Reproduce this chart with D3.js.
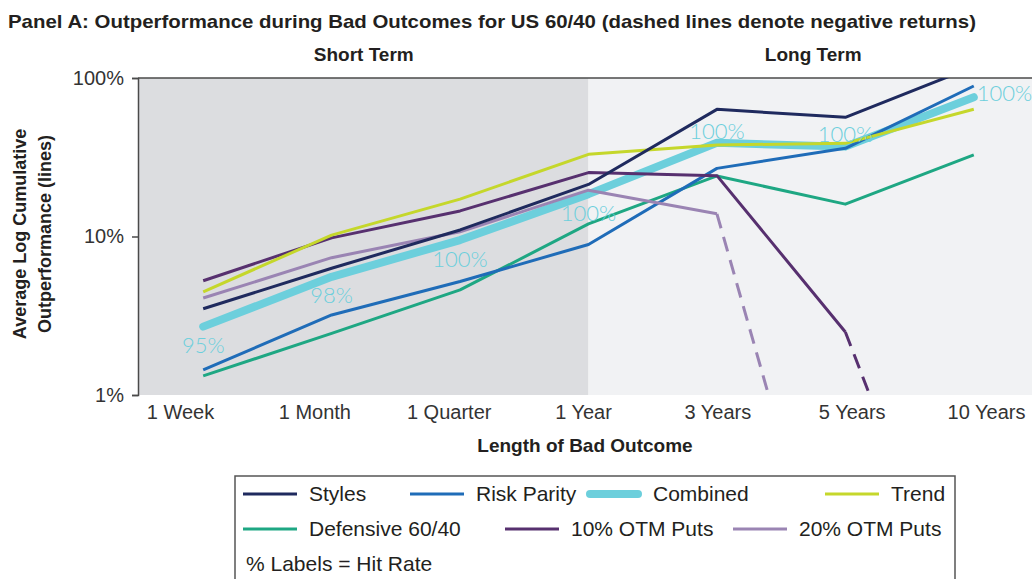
<!DOCTYPE html>
<html>
<head>
<meta charset="utf-8">
<script src="https://cdn.jsdelivr.net/npm/d3@7"></script>
<style>
  html, body { margin: 0; padding: 0; background: #ffffff; }
  svg { display: block; }
</style>
</head>
<body>
<svg id="chart" width="1032" height="579"></svg>
<script>
// ---------------- DATA ----------------
const categories = ["1 Week", "1 Month", "1 Quarter", "1 Year", "3 Years", "5 Years", "10 Years"];
const styles      = [0.035,  0.063,  0.110, 0.213, 0.634, 0.565, 1.18];
const riskParity  = [0.0144, 0.032,  0.052, 0.089, 0.269, 0.360, 0.89];
const combined    = [0.027,  0.0557, 0.095, 0.185, 0.390, 0.369, 0.756];
const trend       = [0.0448, 0.102,  0.172, 0.330, 0.378, 0.387, 0.635];
const defensive   = [0.0132, 0.0245, 0.046, 0.120, 0.241, 0.160, 0.327];
// negative values = negative returns (drawn dashed toward the floor)
const otm10       = [0.0526, 0.098,  0.145, 0.253, 0.242, 0.025, -1];
const otm20       = [0.0409, 0.0735, 0.107, 0.196, 0.139, -1, null];
const hitRates    = ["95%", "98%", "100%", "100%", "100%", "100%", "100%"];
const yTicks      = [0.01, 0.1, 1];
const regionNames = ["Short Term", "Long Term"];
const negativeFloor = 0.0002;

// ---------------- SETUP ----------------
const svg = d3.select("#chart");
const W = 1032, H = 579;
const plot = { left: 139, right: 1038, top: 78, bottom: 395 };

const x = d3.scalePoint().domain(categories).range([plot.left, plot.right]).padding(0.5);
const xLabel = d3.scalePoint().domain(categories).range([180, 986]);
const y = d3.scaleLog().domain([0.01, 1]).range([plot.bottom, plot.top]);

const font = "'Liberation Sans', Arial, sans-serif";
const textColor = "#231f20";

const series = [
  { name: "Combined",       values: combined,   color: "#6ccfdc", width: 8 },
  { name: "Defensive 60/40",values: defensive,  color: "#1ea783", width: 3 },
  { name: "Risk Parity",    values: riskParity, color: "#1f6cb8", width: 3 },
  { name: "20% OTM Puts",   values: otm20,      color: "#9a84b3", width: 3 },
  { name: "10% OTM Puts",   values: otm10,      color: "#57306f", width: 3 },
  { name: "Trend",          values: trend,      color: "#c5d72b", width: 3 },
  { name: "Styles",         values: styles,     color: "#1f2a5e", width: 3 }
];
const byName = Object.fromEntries(series.map(s => [s.name, s]));

// ---------------- BACKGROUND ----------------
const splitX = x("1 Year");
svg.append("rect").attr("x", plot.left).attr("y", plot.top)
  .attr("width", splitX - plot.left).attr("height", plot.bottom - plot.top)
  .attr("fill", "#dcdde0");
svg.append("rect").attr("x", splitX).attr("y", plot.top)
  .attr("width", plot.right - splitX).attr("height", plot.bottom - plot.top)
  .attr("fill", "#f1f2f4");

// region titles
[[plot.left, splitX], [splitX, plot.right]].forEach((r, i) => {
  svg.append("text").attr("x", (r[0] + r[1]) / 2).attr("y", 61)
    .attr("text-anchor", "middle").attr("font-family", font)
    .attr("font-weight", "bold").attr("font-size", 19).attr("fill", textColor)
    .text(regionNames[i]);
});

// title
svg.append("text").attr("x", 8).attr("y", 28)
  .attr("font-family", font).attr("font-weight", "bold").attr("font-size", 19)
  .attr("fill", textColor)
  .attr("textLength", 968).attr("lengthAdjust", "spacingAndGlyphs")
  .text("Panel A: Outperformance during Bad Outcomes for US 60/40 (dashed lines denote negative returns)");

// ---------------- AXES ----------------
// top frame line
svg.append("line").attr("x1", plot.left - 1).attr("x2", W).attr("y1", plot.top).attr("y2", plot.top)
  .attr("stroke", "#4a4a4a").attr("stroke-width", 1.5);

const yAxis = svg.append("g").attr("transform", `translate(${plot.left - 1},0)`)
  .call(d3.axisLeft(y).tickValues(yTicks).tickFormat(d3.format(".0%")).tickSize(6).tickPadding(8));
yAxis.select(".domain").attr("stroke", "#4a4a4a").attr("stroke-width", 1.5);
yAxis.selectAll(".tick line").attr("stroke", "#4a4a4a").attr("stroke-width", 1.5);
yAxis.selectAll(".tick text").attr("font-family", font).attr("font-size", 20).attr("fill", "#333");

const xAxis = svg.append("g").attr("transform", `translate(0,${plot.bottom})`)
  .call(d3.axisBottom(xLabel).tickSize(0).tickPadding(10));
xAxis.select(".domain").remove();
xAxis.selectAll(".tick text").attr("font-family", font).attr("font-size", 20).attr("fill", "#333");

// axis titles
svg.append("text").attr("x", 585).attr("y", 452).attr("text-anchor", "middle")
  .attr("font-family", font).attr("font-weight", "bold").attr("font-size", 19).attr("fill", textColor)
  .text("Length of Bad Outcome");
const yTitle = svg.append("text").attr("transform", "translate(26,234) rotate(-90)")
  .attr("text-anchor", "middle").attr("font-family", font).attr("font-weight", "bold")
  .attr("font-size", 18).attr("fill", textColor);
yTitle.append("tspan").attr("x", 0).attr("dy", 0).text("Average Log Cumulative");
yTitle.append("tspan").attr("x", 0).attr("dy", 25).text("Outperformance (lines)");

// ---------------- LINES ----------------
svg.append("clipPath").attr("id", "plotClip").append("rect")
  .attr("x", plot.left).attr("y", plot.top).attr("width", W - plot.left).attr("height", plot.bottom - plot.top);
const gLines = svg.append("g").attr("clip-path", "url(#plotClip)");

const yVal = v => y(v < 0 ? negativeFloor : v);
const line = d3.line()
  .defined(d => d.v != null && d.v > 0)
  .x(d => x(d.c)).y(d => y(d.v));

series.forEach(s => {
  const pts = categories.map((c, i) => ({ c, v: s.values[i] }));
  gLines.append("path").datum(pts).attr("d", line)
    .attr("fill", "none").attr("stroke", s.color).attr("stroke-width", s.width)
    .attr("stroke-linejoin", "round").attr("stroke-linecap", s.name === "Combined" ? "round" : "butt");
  // dashed segments toward negative returns
  for (let i = 0; i < pts.length - 1; i++) {
    const a = pts[i], b = pts[i + 1];
    if (a.v == null || b.v == null) continue;
    if (a.v > 0 && b.v > 0) continue;
    if (a.v < 0 && b.v < 0) continue;
    gLines.append("line")
      .attr("x1", x(a.c)).attr("y1", yVal(a.v))
      .attr("x2", x(b.c)).attr("y2", yVal(b.v))
      .attr("stroke", s.color).attr("stroke-width", s.width)
      .attr("stroke-dasharray", "15,9");
  }
});

// hit-rate labels on the Combined line
const placement = ["below", "below", "below", "below", "above", "above", "right"];
svg.append("g").selectAll("text").data(categories).join("text")
  .attr("x", (c, i) => placement[i] === "right" ? x(c) + 3 : x(c))
  .attr("y", (c, i) => {
    const py = y(combined[i]);
    if (placement[i] === "below") return py + 19;
    if (placement[i] === "above") return py - 12;
    return py - 4;
  })
  .attr("dy", "0.35em")
  .attr("text-anchor", (c, i) => placement[i] === "right" ? "start" : "middle")
  .attr("font-family", "Lato, 'Open Sans', sans-serif").attr("font-weight", 300)
  .attr("font-size", 22).attr("fill", "#6ccfdc")
  .text((c, i) => hitRates[i]);

// ---------------- LEGEND ----------------
const legend = svg.append("g");
legend.append("rect").attr("x", 235).attr("y", 476).attr("width", 720).attr("height", 120)
  .attr("fill", "#fff").attr("stroke", "#555").attr("stroke-width", 1.5);
const legendRows = [
  [["Styles", 243], ["Risk Parity", 410], ["Combined", 587], ["Trend", 825]],
  [["Defensive 60/40", 243], ["10% OTM Puts", 505], ["20% OTM Puts", 733]]
];
legendRows.forEach((row, r) => {
  const cy = 494 + r * 35;
  row.forEach(([name, lx]) => {
    const s = byName[name];
    legend.append("line").attr("x1", lx + (s.width > 4 ? 3 : 0)).attr("x2", lx + 54 - (s.width > 4 ? 3 : 0))
      .attr("y1", cy).attr("y2", cy)
      .attr("stroke", s.color).attr("stroke-width", s.width)
      .attr("stroke-linecap", s.width > 4 ? "round" : "butt");
    legend.append("text").attr("x", lx + 66).attr("y", cy).attr("dy", "0.35em")
      .attr("font-family", font).attr("font-size", 21).attr("fill", textColor).text(name);
  });
});
legend.append("text").attr("x", 246).attr("y", 564).attr("dy", "0.35em")
  .attr("font-family", font).attr("font-size", 21).attr("fill", textColor).text("% Labels = Hit Rate");
</script>
</body>
</html>
